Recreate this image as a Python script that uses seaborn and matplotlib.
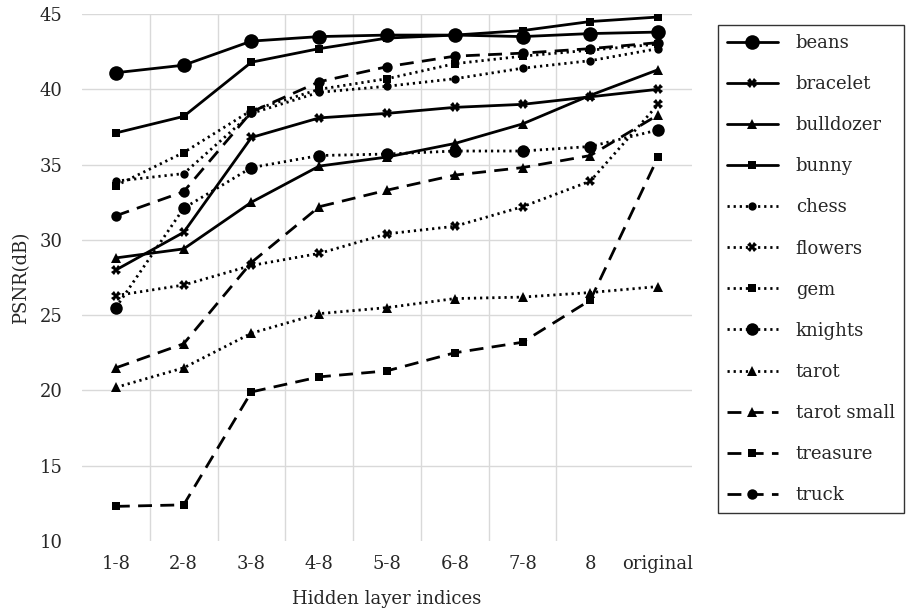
import matplotlib
matplotlib.use('Agg')
import matplotlib.pyplot as plt
import seaborn as sns
import pandas as pd

# data
layers = ['1-8', '2-8', '3-8', '4-8', '5-8', '6-8', '7-8', '8', 'original']

beans = [41.1, 41.6, 43.2, 43.5, 43.6, 43.6, 43.5, 43.7, 43.8]
bracelet = [28.0, 30.5, 36.8, 38.1, 38.4, 38.8, 39.0, 39.5, 40.0]
bulldozer = [28.8, 29.4, 32.5, 34.9, 35.5, 36.4, 37.7, 39.6, 41.3]
bunny = [37.1, 38.2, 41.8, 42.7, 43.4, 43.6, 43.9, 44.5, 44.8]
chess = [33.9, 34.4, 38.4, 39.8, 40.2, 40.7, 41.4, 41.9, 42.7]
flowers = [26.3, 27.0, 28.3, 29.1, 30.4, 30.9, 32.2, 33.9, 39.0]
gem = [33.6, 35.8, 38.6, 40.0, 40.7, 41.7, 42.2, 42.6, 43.0]
knights = [25.5, 32.1, 34.8, 35.6, 35.7, 35.9, 35.9, 36.2, 37.3]
tarot = [20.2, 21.5, 23.8, 25.1, 25.5, 26.1, 26.2, 26.5, 26.9]
tarot_small = [21.5, 23.1, 28.5, 32.2, 33.3, 34.3, 34.8, 35.6, 38.3]
treasure = [12.3, 12.4, 19.9, 20.9, 21.3, 22.5, 23.2, 26.0, 35.5]
truck = [31.6, 33.2, 38.5, 40.5, 41.5, 42.2, 42.4, 42.7, 43.1]

names = ['beans', 'bracelet', 'bulldozer', 'bunny', 'chess', 'flowers', 'gem',
         'knights', 'tarot', 'tarot small', 'treasure', 'truck']
values = [beans, bracelet, bulldozer, bunny, chess, flowers, gem,
          knights, tarot, tarot_small, treasure, truck]

solid = '-'
dotted = (0, (0.8, 1.4))
dashed = (0, (5, 3))
# line style, marker, marker size
looks = {
    'beans': (solid, 'o', 10.5),
    'bracelet': (solid, 'X', 7),
    'bulldozer': (solid, '^', 7),
    'bunny': (solid, 's', 6),
    'chess': (dotted, 'o', 6),
    'flowers': (dotted, 'X', 7),
    'gem': (dotted, 's', 6),
    'knights': (dotted, 'o', 9),
    'tarot': (dotted, '^', 7),
    'tarot small': (dashed, '^', 7),
    'treasure': (dashed, 's', 6),
    'truck': (dashed, 'o', 7.5),
}

sns.set_style('white')
plt.rcParams['font.family'] = ['DejaVu Serif']

fig = plt.figure(figsize=(9.07, 6.14), dpi=100)
ax = fig.add_axes([82 / 907, 1 - 541 / 614, 610 / 907, 527 / 614])

for name, vals in zip(names, values):
    ls, mk, ms = looks[name]
    df = pd.DataFrame({'layer': layers, 'psnr': vals})
    sns.lineplot(data=df, x='layer', y='psnr', ax=ax, color='black',
                 linestyle=ls, linewidth=2.0, marker=mk, markersize=ms,
                 markeredgewidth=0, label=name)

ax.set_xlim(-0.5, len(layers) - 0.5)
ax.set_ylim(10, 45)
ax.set_yticks(range(10, 46, 5))
ax.set_xticks(range(len(layers)))
ax.set_xticklabels(layers)
ax.set_xticks([i + 0.5 for i in range(len(layers) - 2)], minor=True)
ax.grid(True, which='major', axis='y', color='#d9d9d9', linewidth=1)
ax.grid(True, which='minor', axis='x', color='#d9d9d9', linewidth=1)
ax.get_ygridlines()[0].set_visible(False)
ax.set_axisbelow(True)
for s in ax.spines.values():
    s.set_visible(False)
ax.tick_params(axis='both', which='both', length=0, labelsize=13)
ax.tick_params(axis='y', pad=14)
ax.tick_params(axis='x', pad=10)

ax.set_xlabel('Hidden layer indices', fontsize=13, labelpad=12)
ax.set_ylabel('PSNR(dB)', fontsize=13, labelpad=7)

ax.legend(loc='upper left', bbox_to_anchor=(718 / 907, 1 - 25 / 614),
          bbox_transform=fig.transFigure, frameon=True, fancybox=False,
          edgecolor='black', fontsize=13, handlelength=2.8,
          labelspacing=1.28, borderpad=0.5, handletextpad=1.0,
          borderaxespad=0)
ax.get_legend().get_frame().set_linewidth(1.0)

fig.savefig('out.png', dpi=100)
